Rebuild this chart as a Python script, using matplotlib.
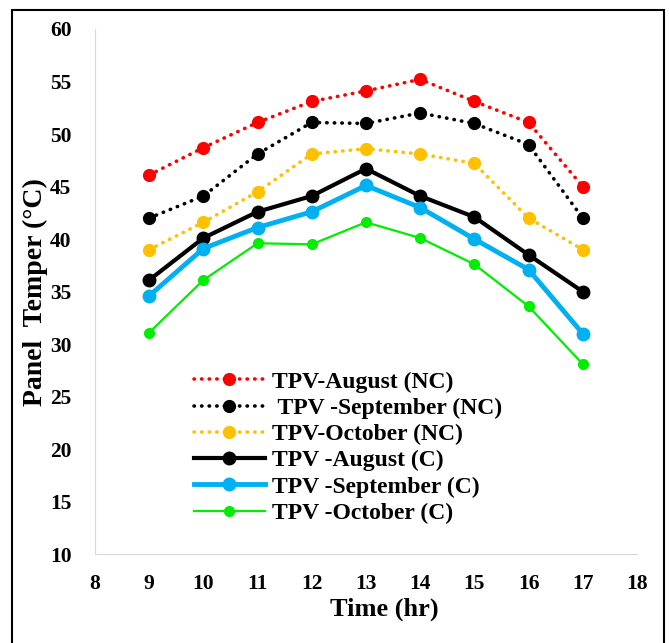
import matplotlib
matplotlib.use('Agg')
import matplotlib.pyplot as plt
from matplotlib.patches import Rectangle

plt.rcParams['font.family'] = ['Liberation Serif', 'DejaVu Serif']
plt.rcParams['font.weight'] = 'bold'

hours = [9, 10, 11, 12, 13, 14, 15, 16, 17]
aug_nc = [46.1, 48.7, 51.1, 53.1, 54.1, 55.2, 53.1, 51.1, 45.0]
sep_nc = [42.0, 44.1, 48.1, 51.1, 51.0, 52.0, 51.0, 49.0, 42.0]
oct_nc = [39.0, 41.6, 44.5, 48.1, 48.6, 48.1, 47.2, 42.0, 39.0]
aug_c = [36.1, 40.1, 42.6, 44.1, 46.7, 44.1, 42.1, 38.5, 35.0]
sep_c = [34.6, 39.1, 41.1, 42.6, 45.1, 43.0, 40.0, 37.1, 31.0]
oct_c = [31.1, 36.1, 39.6, 39.5, 41.6, 40.1, 37.6, 33.6, 28.1]

fig = plt.figure(figsize=(6.69, 6.43), dpi=100)
ax = fig.add_axes([0.142, 0.138, 0.81, 0.817])

dots = (0, (0.1, 2.0))
ax.plot(hours, aug_nc, linestyle=dots, dash_capstyle='round', color='#ff0000', lw=2.6, marker='o', ms=8.5, label='TPV-August (NC)')
ax.plot(hours, sep_nc, linestyle=dots, dash_capstyle='round', color='#000000', lw=2.6, marker='o', ms=8.5, label=' TPV -September (NC)')
ax.plot(hours, oct_nc, linestyle=dots, dash_capstyle='round', color='#ffc000', lw=2.6, marker='o', ms=8.5, label='TPV-October (NC)')
ax.plot(hours, aug_c, '-', color='#000000', lw=3, marker='o', ms=9, label='TPV -August (C)')
ax.plot(hours, sep_c, '-', color='#00b0f0', lw=3.5, marker='o', ms=9, label='TPV -September (C)')
ax.plot(hours, oct_c, '-', color='#00ee00', lw=1.6, marker='o', ms=7, label='TPV -October (C)')

ax.set_xlim(8, 18)
ax.set_ylim(10, 60)
ax.set_xticks(range(8, 19))
ax.set_yticks(range(10, 61, 5))
ax.tick_params(axis='x', length=0, labelsize=15.5, pad=14)
ax.tick_params(axis='y', length=0, labelsize=15.5, pad=17)
for s in ['top', 'right']:
    ax.spines[s].set_visible(False)
for s in ['left', 'bottom']:
    ax.spines[s].set_color('#d9d9d9')

ax.set_xlabel('Time (hr)', fontsize=19, fontweight='bold')
ax.set_ylabel('Panel  Temper (°C)', fontsize=20, fontweight='bold')
ax.xaxis.set_label_coords(0.533, -0.082)
ax.yaxis.set_label_coords(-0.087, 0.5)

ax.legend(loc='lower left', bbox_to_anchor=(0.165, 0.04), frameon=False,
          prop={'size': 17, 'weight': 'bold'}, handlelength=3.0,
          labelspacing=0.2, handletextpad=0.3, borderaxespad=0)

fig.patches.append(Rectangle((0.018, -0.01), 0.975, 0.995, transform=fig.transFigure,
                             fill=False, edgecolor='black', lw=1.5))

fig.savefig('out.png', dpi=100)
